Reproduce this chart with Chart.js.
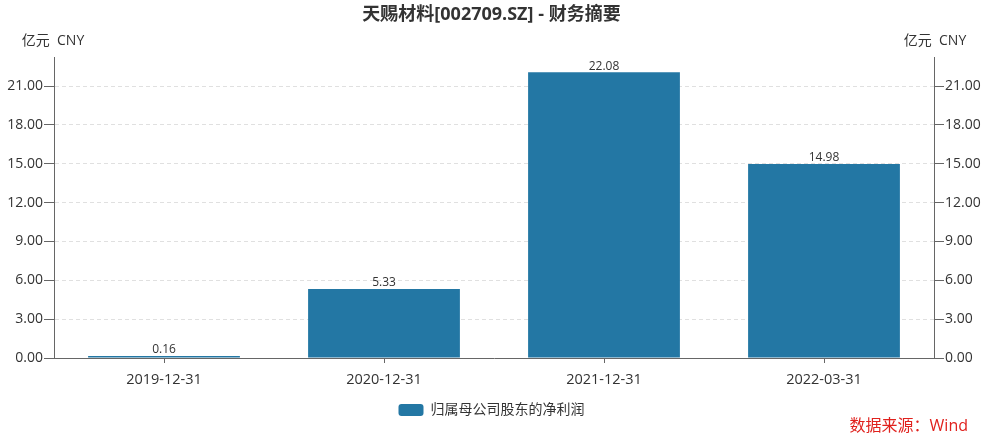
<!DOCTYPE html>
<html>
<head>
<meta charset="utf-8">
<script src="https://cdn.jsdelivr.net/npm/chart.js@4.4.0/dist/chart.umd.min.js"></script>
<style>
  html, body { margin: 0; padding: 0; background: #fff; }
  #wrap { width: 983px; height: 437px; position: relative; }
</style>
</head>
<body>
<div id="wrap"><canvas id="chart"></canvas></div>
<script>
// data
const categories = ['2019-12-31', '2020-12-31', '2021-12-31', '2022-03-31'];
const netProfit = [0.16, 5.33, 22.08, 14.98];
const seriesName = '归属母公司股东的净利润';
const yTicks = [0, 3, 6, 9, 12, 15, 18, 21];

const FONT = '"Open Sans", "Noto Sans CJK SC", sans-serif';
const BAR_COLOR = '#2377a4';

// title, unit labels, value labels, source
const extras = {
    id: 'extras',
    afterDatasetsDraw(chart) {
        const ctx = chart.ctx;
        const area = chart.chartArea;
        ctx.save();
        ctx.fillStyle = '#333';
        ctx.font = 'bold 18px ' + FONT;
        ctx.textAlign = 'center';
        ctx.textBaseline = 'middle';
        ctx.fillText('天赐材料[002709.SZ] - 财务摘要', chart.width / 2, 15);

        ctx.font = '14px ' + FONT;
        ctx.fillText('亿元  CNY', area.left - 1, 41);
        ctx.fillText('亿元  CNY', area.right + 1, 41);

        // value labels
        ctx.font = '12px ' + FONT;
        ctx.fillStyle = '#333';
        ctx.textBaseline = 'bottom';
        const meta = chart.getDatasetMeta(0);
        meta.data.forEach(function(bar, i) {
            ctx.fillText(netProfit[i].toFixed(2), bar.x, bar.y);
        });

        ctx.font = '16px ' + FONT;
        ctx.fillStyle = '#e0211d';
        ctx.textAlign = 'right';
        ctx.textBaseline = 'middle';
        ctx.fillText('数据来源：Wind', 968, 426);
        ctx.restore();
    }
};

const tickOpts = {
    color: '#333',
    font: { family: FONT, size: 14 },
    padding: 1,
    callback: function(v) { return yTicks.includes(v) ? v.toFixed(2) : ''; }
};

new Chart(document.getElementById('chart'), {
    type: 'bar',
    data: {
        labels: categories,
        datasets: [{
            label: seriesName,
            data: netProfit,
            backgroundColor: BAR_COLOR,
            borderWidth: 0,
            barPercentage: 0.69,
            categoryPercentage: 1.0,
            yAxisID: 'y'
        }]
    },
    options: {
        responsive: true,
        maintainAspectRatio: false,
        animation: false,
        layout: { padding: { top: 57, bottom: 10, left: 0, right: 0 } },
        plugins: {
            title: { display: false },
            tooltip: { enabled: false },
            legend: {
                position: 'bottom',
                labels: {
                    color: '#333',
                    font: { family: FONT, size: 14 },
                    boxWidth: 25,
                    boxHeight: 12,
                    useBorderRadius: true,
                    borderRadius: 3,
                    padding: 8
                }
            }
        },
        scales: {
            x: {
                grid: {
                    offset: false,
                    drawOnChartArea: false,
                    drawTicks: true,
                    tickLength: 5,
                    tickColor: '#666'
                },
                border: { color: '#666' },
                ticks: {
                    color: '#333',
                    font: { family: FONT, size: 14.5 },
                    padding: 8,
                    maxRotation: 0
                },
                afterFit: function(s) { s.height = 37; }
            },
            y: {
                position: 'left',
                min: 0,
                max: 23.25,
                afterBuildTicks: function(s) { s.ticks = yTicks.map(function(v) { return { value: v }; }); },
                grid: {
                    color: '#e0e0e0',
                    tickColor: '#666',
                    tickLength: 10,
                    drawOnChartArea: true
                },
                border: { color: '#666', dash: [4, 3] },
                ticks: tickOpts,
                afterFit: function(s) { s.width = 54; }
            },
            y2: {
                position: 'right',
                min: 0,
                max: 23.25,
                afterBuildTicks: function(s) { s.ticks = yTicks.map(function(v) { return { value: v }; }); },
                grid: {
                    drawOnChartArea: false,
                    tickColor: '#666',
                    tickLength: 10
                },
                border: { color: '#666' },
                ticks: tickOpts,
                afterFit: function(s) { s.width = 49; }
            }
        }
    },
    plugins: [extras]
});
</script>
</body>
</html>
